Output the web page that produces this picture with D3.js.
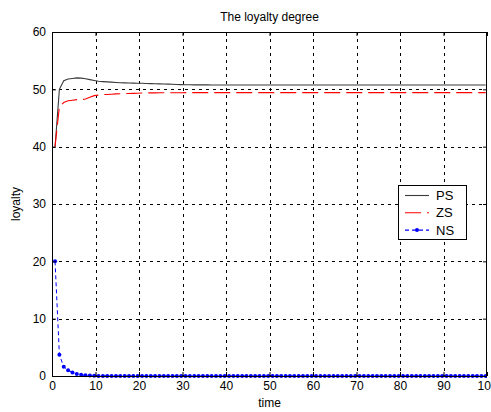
<!DOCTYPE html>
<html><head><meta charset="utf-8">
<script src="https://cdn.jsdelivr.net/npm/d3@7/dist/d3.min.js"></script>
<style>
html,body{margin:0;padding:0;background:#fff;}
text{font-family:"Liberation Sans",Arial,sans-serif;}
</style>
</head><body>
<svg id="chart" width="491" height="412"></svg>
<script>
const title = "The loyalty degree";
const xLabel = "time";
const yLabel = "loyalty";
const xTicks = [0,10,20,30,40,50,60,70,80,90,100];
const yTicks = [0,10,20,30,40,50,60];
const seriesNames = ["PS","ZS","NS"];
const time = d3.range(0.7, 100, 1);
const PS = [
40, 50, 51.5, 51.8, 51.9, 52.0, 51.95, 51.85, 51.7, 51.55,
51.4, 51.35, 51.3, 51.25, 51.2, 51.15, 51.12, 51.1, 51.08, 51.06,
51.05, 51.03, 51.0, 50.98, 50.95, 50.92, 50.9, 50.88, 50.85, 50.82,
50.8, 50.79, 50.78, 50.78, 50.77, 50.77, 50.76, 50.76, 50.76, 50.75,
50.75, 50.75, 50.75, 50.75, 50.75, 50.75, 50.75, 50.75, 50.75, 50.75,
50.75, 50.75, 50.75, 50.75, 50.75, 50.75, 50.75, 50.75, 50.75, 50.75,
50.75, 50.75, 50.75, 50.75, 50.75, 50.75, 50.75, 50.75, 50.75, 50.75,
50.75, 50.75, 50.75, 50.75, 50.75, 50.75, 50.75, 50.75, 50.75, 50.75,
50.75, 50.75, 50.75, 50.75, 50.75, 50.75, 50.75, 50.75, 50.75, 50.75,
50.75, 50.75, 50.75, 50.75, 50.75, 50.75, 50.75, 50.75, 50.75, 50.75];
const ZS = [
40, 47, 47.7, 48.0, 48.1, 48.2, 48.2, 48.3, 48.6, 48.9,
49.0, 49.1, 49.1, 49.15, 49.2, 49.22, 49.25, 49.28, 49.3, 49.32,
49.35, 49.37, 49.38, 49.39, 49.4, 49.4, 49.4, 49.41, 49.41, 49.41,
49.42, 49.42, 49.42, 49.42, 49.42, 49.42, 49.42, 49.42, 49.42, 49.42,
49.42, 49.42, 49.42, 49.42, 49.42, 49.42, 49.42, 49.42, 49.42, 49.42,
49.42, 49.42, 49.42, 49.42, 49.42, 49.42, 49.42, 49.42, 49.42, 49.42,
49.42, 49.42, 49.42, 49.42, 49.42, 49.42, 49.42, 49.42, 49.42, 49.42,
49.42, 49.42, 49.42, 49.42, 49.42, 49.42, 49.42, 49.42, 49.42, 49.42,
49.42, 49.42, 49.42, 49.42, 49.42, 49.42, 49.42, 49.42, 49.42, 49.42,
49.42, 49.42, 49.42, 49.42, 49.42, 49.42, 49.42, 49.42, 49.42, 49.42];
const NS = [
20, 3.7, 1.6, 1.0, 0.6, 0.35, 0.2, 0.12, 0.07, 0.04,
0.02, 0.01, 0.01, 0, 0, 0, 0, 0, 0, 0,
0, 0, 0, 0, 0, 0, 0, 0, 0, 0,
0, 0, 0, 0, 0, 0, 0, 0, 0, 0,
0, 0, 0, 0, 0, 0, 0, 0, 0, 0,
0, 0, 0, 0, 0, 0, 0, 0, 0, 0,
0, 0, 0, 0, 0, 0, 0, 0, 0, 0,
0, 0, 0, 0, 0, 0, 0, 0, 0, 0,
0, 0, 0, 0, 0, 0, 0, 0, 0, 0,
0, 0, 0, 0, 0, 0, 0, 0, 0, 0];

const svg = d3.select("#chart");
const L = 52, R = 487, T = 32, B = 376;
const x = d3.scaleLinear().domain([0,100]).range([L,R]);
const y = d3.scaleLinear().domain([0,60]).range([B,T]);

// grid
const grid = svg.append("g").attr("stroke","#000").attr("stroke-width",1)
  .attr("stroke-dasharray","3,4").attr("shape-rendering","crispEdges");
grid.selectAll(".gx").data(xTicks.slice(1,-1)).join("line")
  .attr("x1",d=>Math.round(x(d))+0.5).attr("x2",d=>Math.round(x(d))+0.5)
  .attr("y1",T).attr("y2",B);
grid.selectAll(".gy").data(yTicks.slice(1,-1)).join("line")
  .attr("y1",d=>Math.round(y(d))+0.5).attr("y2",d=>Math.round(y(d))+0.5)
  .attr("x1",L).attr("x2",R);

// series
const clip = svg.append("clipPath").attr("id","clip").append("rect")
  .attr("x",L).attr("y",T-2).attr("width",R-L).attr("height",B-T+4);
const plot = svg.append("g").attr("clip-path","url(#clip)");
const lineGen = arr => d3.line().x((d,i)=>x(time[i])).y(d=>y(d))(arr);

plot.append("path").attr("d",lineGen(PS)).attr("fill","none")
  .attr("stroke","#3a3a3a").attr("stroke-width",1.1);
plot.append("path").attr("d",lineGen(ZS)).attr("fill","none")
  .attr("stroke","#ff0000").attr("stroke-width",1.1).attr("stroke-dasharray","16,6");
plot.append("path").attr("d",lineGen(NS)).attr("fill","none")
  .attr("stroke","#0000ff").attr("stroke-width",1).attr("stroke-dasharray","4,3");
plot.selectAll(".ns").data(NS).join("circle")
  .attr("cx",(d,i)=>x(time[i])).attr("cy",d=>y(d)).attr("r",2).attr("fill","#0000ff");

// axes with inward ticks
const fs = "12px";
const ax = svg.append("g").attr("transform",`translate(0,${B})`)
  .call(d3.axisBottom(x).tickValues(xTicks).tickSize(-4).tickPadding(5).tickFormat(d3.format("d")));
const ay = svg.append("g").attr("transform",`translate(${L},0)`)
  .call(d3.axisLeft(y).tickValues(yTicks).tickSize(-4).tickPadding(6).tickFormat(d3.format("d")));
const axT = svg.append("g").attr("transform",`translate(0,${T})`)
  .call(d3.axisTop(x).tickValues(xTicks).tickSize(-4).tickFormat(""));
const ayR = svg.append("g").attr("transform",`translate(${R},0)`)
  .call(d3.axisRight(y).tickValues(yTicks).tickSize(-4).tickFormat(""));
[ax,ay,axT,ayR].forEach(g=>{
  g.select(".domain").remove();
  g.selectAll("line").attr("stroke","#000");
  g.selectAll("text").attr("font-size",fs).attr("fill","#000")
   .attr("font-family","Liberation Sans, Arial, sans-serif");
});
svg.append("rect").attr("x",L+0.5).attr("y",T+0.5).attr("width",R-L-1).attr("height",B-T)
  .attr("fill","none").attr("stroke","#000").attr("stroke-width",1).attr("shape-rendering","crispEdges");

// titles
svg.append("text").attr("x",(L+R)/2).attr("y",21).attr("text-anchor","middle")
  .attr("font-size","12px").text(title);
svg.append("text").attr("x",(L+R)/2).attr("y",407).attr("text-anchor","middle")
  .attr("font-size","12px").text(xLabel);
svg.append("text").attr("transform",`translate(20,${(T+B)/2}) rotate(-90)`)
  .attr("text-anchor","middle").attr("font-size","12px").text(yLabel);

// legend
const lg = svg.append("g").attr("transform","translate(398,185)");
lg.append("rect").attr("x",0.5).attr("y",0.5).attr("width",68).attr("height",54)
  .attr("fill","#fff").attr("stroke","#000").attr("shape-rendering","crispEdges");
const styles = [
  {stroke:"#3a3a3a", dash:null, marker:false},
  {stroke:"#ff0000", dash:"16,6", marker:false},
  {stroke:"#0000ff", dash:"4,3", marker:true}
];
seriesNames.forEach((name,i)=>{
  const yy = 10.5 + i*17.3;
  lg.append("line").attr("x1",7).attr("x2",31).attr("y1",yy).attr("y2",yy)
    .attr("stroke",styles[i].stroke).attr("stroke-width",1.1)
    .attr("stroke-dasharray",styles[i].dash);
  if(styles[i].marker) lg.append("circle").attr("cx",19).attr("cy",yy).attr("r",2).attr("fill","#0000ff");
  lg.append("text").attr("x",38).attr("y",yy+4.5).attr("font-size","13px").text(name);
});
</script>
</body></html>
